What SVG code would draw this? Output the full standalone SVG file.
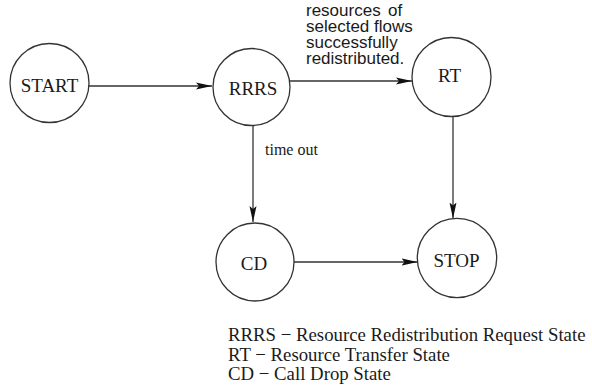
<svg xmlns="http://www.w3.org/2000/svg" width="592" height="391" viewBox="0 0 592 391">
<style>
.nc{fill:#fff;stroke:#333;stroke-width:1.3}
.nt{font-family:"Liberation Serif","Times New Roman",Times,serif;font-size:19px;fill:#1a1a1a;text-anchor:middle}
.edge{stroke:#333;stroke-width:1.3;fill:none;marker-end:url(#ah)}
.lbl{font-family:"Liberation Sans",Arial,Helvetica,sans-serif;font-size:17px;fill:#1a1a1a}
.lbl2{font-family:"Liberation Serif","Times New Roman",Times,serif;font-size:16px;fill:#1a1a1a}
.legend{font-family:"Liberation Serif","Times New Roman",Times,serif;font-size:18.8px;fill:#1a1a1a}
</style>
<defs>
<marker id="ah" viewBox="0 0 16 8" refX="16" refY="4" markerWidth="16" markerHeight="8" markerUnits="userSpaceOnUse" orient="auto">
<path d="M0,0.5 L16,4 L0,7.5 L3,4 Z" fill="#111"/>
</marker>
</defs>
<g id="connectors">
<line class="edge" x1="89" y1="86" x2="212" y2="86"/>
<line class="edge" x1="289.5" y1="81" x2="412" y2="81"/>
<line class="edge" x1="253" y1="125.5" x2="253" y2="222"/>
<line class="edge" x1="453" y1="116.5" x2="453" y2="218.5"/>
<line class="edge" x1="294" y1="262" x2="417.5" y2="262"/>
<text class="lbl" x="306" y="16">resources<tspan x="388">of</tspan></text>
<text class="lbl" x="306" y="32">selected flows</text>
<text class="lbl" x="306" y="48">successfully</text>
<text class="lbl" x="306" y="64">redistributed.</text>
<text class="lbl2" x="265" y="155">time out</text>
</g>
<g id="START"><circle class="nc" cx="49.5" cy="83" r="39.5"/><text class="nt" x="49.5" y="91.5">START</text></g>
<g id="RRRS"><circle class="nc" cx="251.5" cy="87" r="38.5"/><text class="nt" x="253" y="95">RRRS</text></g>
<g id="RT"><circle class="nc" cx="451.5" cy="77" r="39.5"/><text class="nt" x="449.5" y="82">RT</text></g>
<g id="CD"><circle class="nc" cx="255" cy="262" r="39"/><text class="nt" x="254" y="270">CD</text></g>
<g id="STOP"><circle class="nc" cx="457" cy="258" r="39.7"/><text class="nt" x="456.5" y="266.5">STOP</text></g>
<g id="legend">
<text class="legend" x="228" y="341">RRRS − Resource Redistribution Request State</text>
<text class="legend" x="228" y="360.5">RT − Resource Transfer State</text>
<text class="legend" x="228" y="380">CD − Call Drop State</text>
</g>
</svg>
